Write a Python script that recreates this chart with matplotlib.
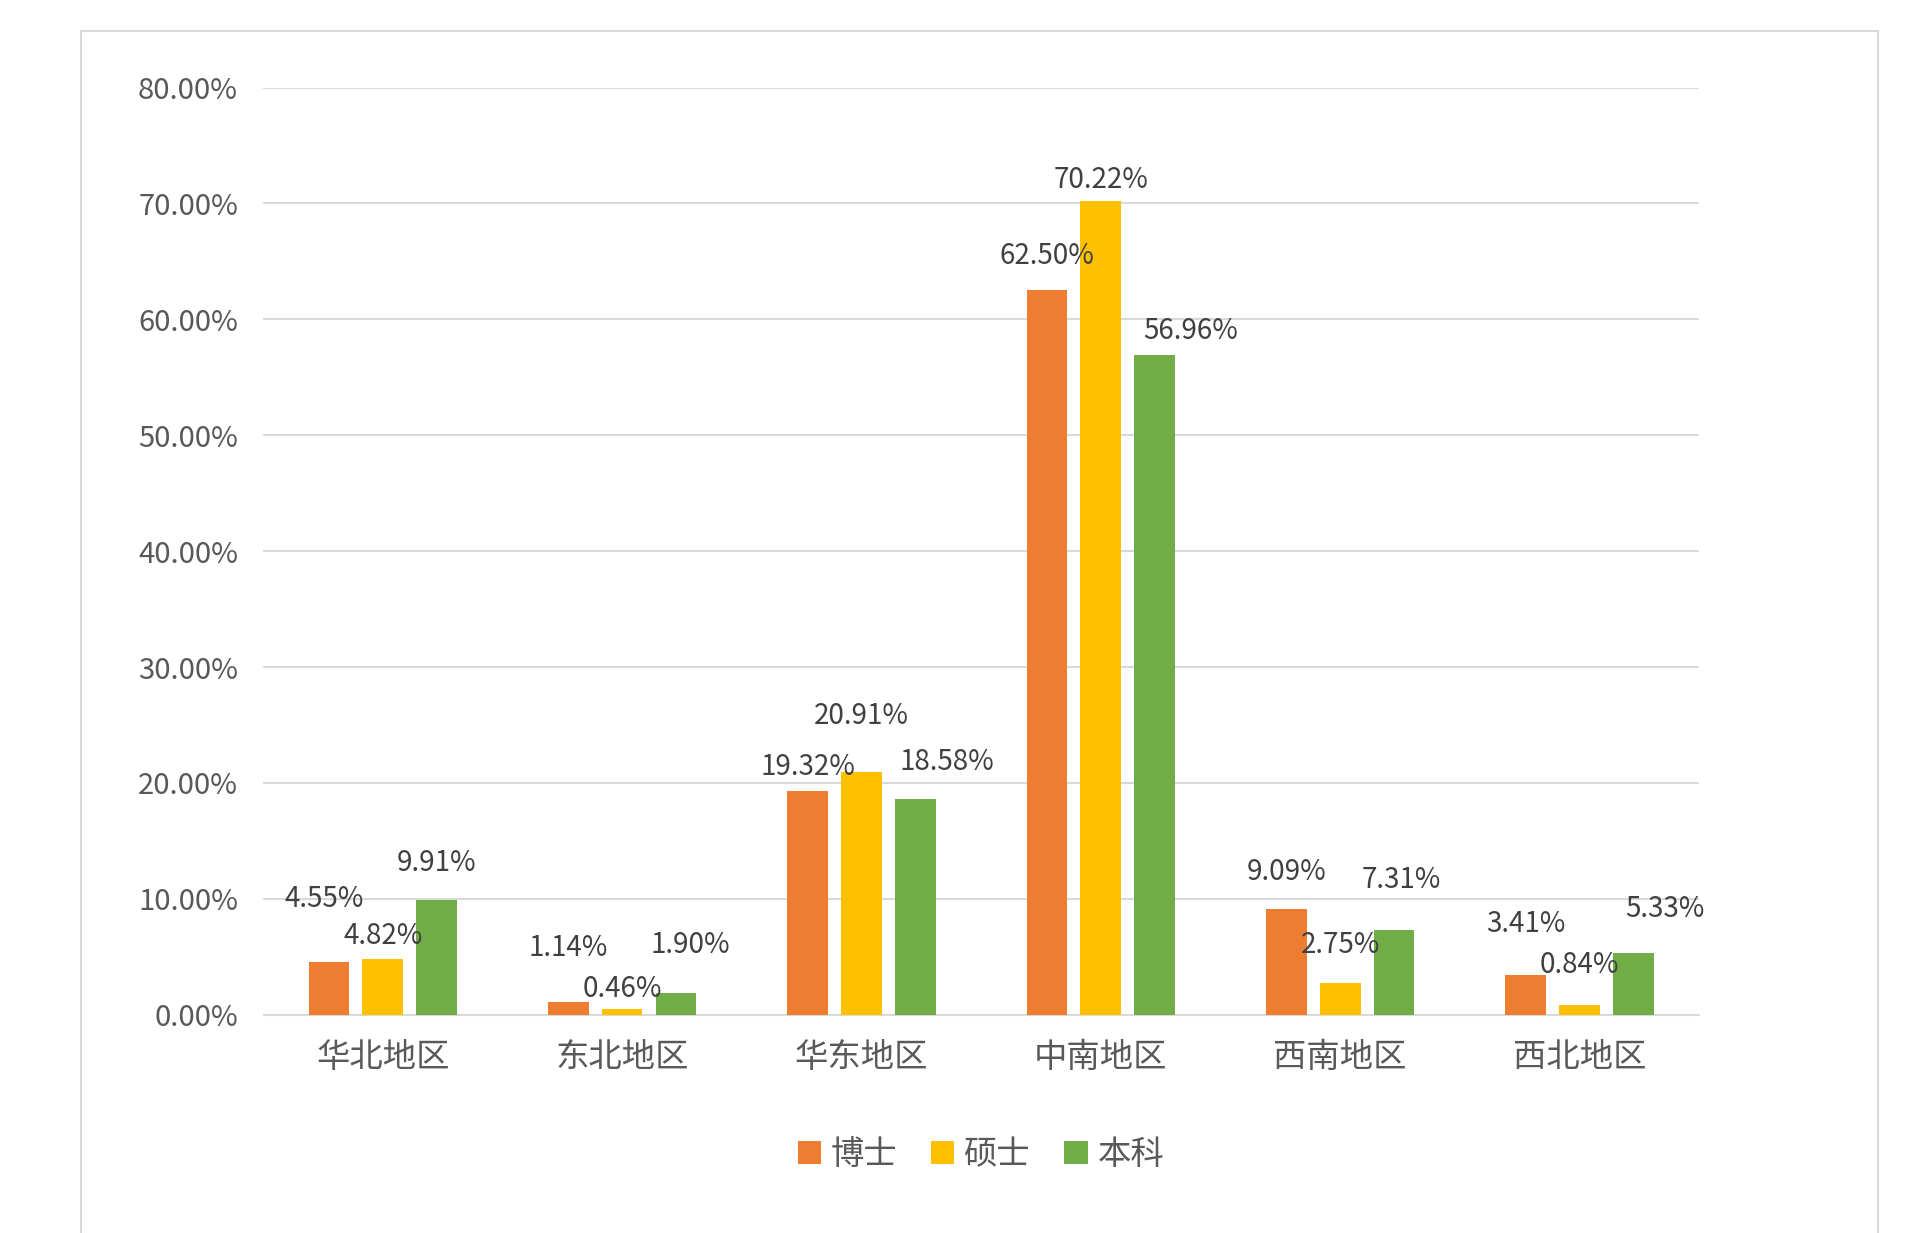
import matplotlib.pyplot as plt
import numpy as np
from matplotlib.patches import Rectangle

plt.rcParams['font.family'] = ['Noto Sans CJK SC', 'DejaVu Sans']

regions = ['华北地区', '东北地区', '华东地区', '中南地区', '西南地区', '西北地区']
series = ['博士', '硕士', '本科']
doctor = [4.55, 1.14, 19.32, 62.50, 9.09, 3.41]
master = [4.82, 0.46, 20.91, 70.22, 2.75, 0.84]
bachelor = [9.91, 1.90, 18.58, 56.96, 7.31, 5.33]
colors = ['#ED7D31', '#FFC000', '#70AD47']

# label placement (Excel style): vertical centre of each label, and horizontal nudge
label_y = [[10.0, 5.8, 21.4, 65.5, 12.3, 7.8],
           [6.8, 2.2, 25.8, 72.0, 6.0, 4.3],
           [13.1, 6.0, 21.8, 59.0, 11.6, 9.1]]
label_dx = [[-0.02, 0, 0, 0, 0, 0],
            [0, 0, 0, 0, 0, 0],
            [0, 0.06, 0.13, 0.15, 0.03, 0.13]]

fig = plt.figure(figsize=(19.2, 12.33), dpi=100)
fig.patches.append(Rectangle((0.042, -0.01), 0.936, 0.985, transform=fig.transFigure,
                             fill=False, edgecolor='#d9d9d9', linewidth=1.5))
ax = fig.add_axes([0.137, 0.177, 0.748, 0.752])

x = np.arange(len(regions))
w = 0.17
for i, (vals, name) in enumerate(zip([doctor, master, bachelor], series)):
    pos = x + (i - 1) * 0.225
    ax.bar(pos, vals, width=w, color=colors[i], label=name, zorder=3)
    for j, (p, v) in enumerate(zip(pos, vals)):
        ax.text(p + label_dx[i][j], label_y[i][j], f'{v:.2f}%', ha='center', va='center',
                fontsize=20, color='#404040', zorder=4)

ax.set_ylim(0, 80)
ax.set_xlim(-0.5, len(regions) - 0.5)
ax.set_yticks(np.arange(0, 81, 10))
ax.set_yticklabels([f'{t:.2f}%' for t in np.arange(0, 81, 10)], fontsize=21, color='#595959')
ax.set_xticks(x)
ax.set_xticklabels(regions, fontsize=24, color='#595959')
ax.grid(axis='y', color='#d9d9d9', linewidth=1.5, zorder=0)
for s in ['top', 'right', 'left']:
    ax.spines[s].set_visible(False)
ax.spines['bottom'].set_color('#d9d9d9')
ax.tick_params(length=0, pad=18)
ax.legend(loc='upper center', bbox_to_anchor=(0.5, -0.1), ncol=3, frameon=False,
          fontsize=24, handlelength=0.7, handleheight=0.7, columnspacing=1.0, handletextpad=0.3,
          labelcolor='#595959')

fig.savefig('out.png', dpi=100)
